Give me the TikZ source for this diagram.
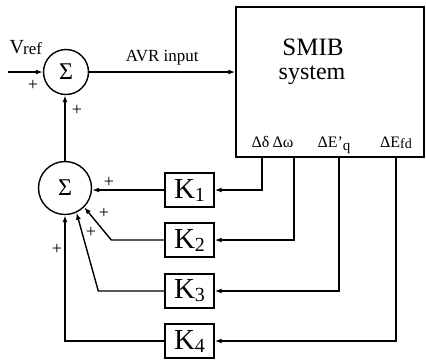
\documentclass[tikz,border=0pt]{standalone}
\usepackage{fontspec}
\setmainfont{Liberation Serif}
\usetikzlibrary{arrows.meta,calc}
\newcommand{\fs}[1]{\fontsize{#1}{#1}\selectfont}
\begin{document}
\begin{tikzpicture}[x=1pt,y=-1pt,
  line width=1.4pt,
  arr/.style={-{Latex[length=7pt,width=5pt]}},
  sumnode/.style={draw,circle,inner sep=0pt,font=\fs{24}},
  kbox/.style={draw,rectangle,minimum width=49pt,minimum height=34pt,inner sep=0pt,font=\fs{29}},
  lbl/.style={inner sep=0pt,font=\fs{16}},
  plus/.style={inner sep=0pt,font=\fs{18}}]
\useasboundingbox (0,0) rectangle (426,360);
% summing junctions
\node[sumnode,minimum size=45pt] (s1) at (66,72) {Σ};
\node[sumnode,minimum size=53pt] (s2) at (65,188) {Σ};
% SMIB system
\node[draw,rectangle,minimum width=188pt,minimum height=150pt,inner sep=0pt] (smib) at (330,82) {};
\node[inner sep=0pt,font=\fs{25},anchor=base] (t1) at (313,55) {SMIB};
\node[inner sep=0pt,font=\fs{24},anchor=base] (t2) at (312,79) {system};
% output labels
\node[lbl,anchor=base] (ld) at (260.5,147) {Δδ};
\node[lbl,anchor=base] (lw) at (283,147) {Δω};
\node[lbl,anchor=base] (le) at (334,147) {ΔE'\raisebox{-3pt}{\fs{15}q}};
\node[lbl,anchor=base] (lf) at (396,147) {ΔE\raisebox{-1pt}{\fs{14}fd}};
\coordinate (o1) at (262,157);
\coordinate (o2) at (294,157);
\coordinate (o3) at (339,157);
\coordinate (o4) at (396,157);
% gain blocks
\node[kbox] (k1) at (189.5,190) {K\raisebox{-3pt}{\fs{20}1}};
\node[kbox] (k2) at (189.5,240) {K\raisebox{-3pt}{\fs{20}2}};
\node[kbox] (k3) at (189.5,291) {K\raisebox{-3pt}{\fs{20}3}};
\node[kbox] (k4) at (189.5,341) {K\raisebox{-3pt}{\fs{20}4}};
% Vref input
\coordinate (vin) at (8,72);
\draw[arr] (vin) -- (s1.west);
\node[inner sep=0pt,anchor=base west] (vref) at (9,53) {\fs{20}V\kern-1pt\raisebox{-1pt}{\fs{17}ref}};
\node[plus] (p0) at (33,85) {+};
% s2 -> s1
\draw[arr] (s2.north) -- (s2.north |- s1.south);
\node[plus] (p5) at (77,110) {+};
% AVR input
\draw[arr] (s1.east) -- (s1.east -| smib.west) node[midway,above=3pt,font=\fs{17}] (avr) {AVR input};
% feedback signals
\draw[arr] (o1) |- (k1.east);
\draw[arr] (o2) |- (k2.east);
\draw[arr] (o3) |- (k3.east);
\draw[arr] (o4) |- (k4.east);
% gain outputs to s2
\draw[arr] (k1.west) -- (k1.west -| s2.east);
\draw[arr] (k2.west) -- ++(-53,0) -- (s2.-45);
\draw[arr] (k3.west) -- ++(-66,0) -- (s2.-65);
\draw[arr] (k4.west) -| (s2.south);
\node[plus] (p1) at (109,182) {+};
\node[plus] (p2) at (104,213) {+};
\node[plus] (p3) at (91,232) {+};
\node[plus] (p4) at (57,249) {+};
\end{tikzpicture}
\end{document}
